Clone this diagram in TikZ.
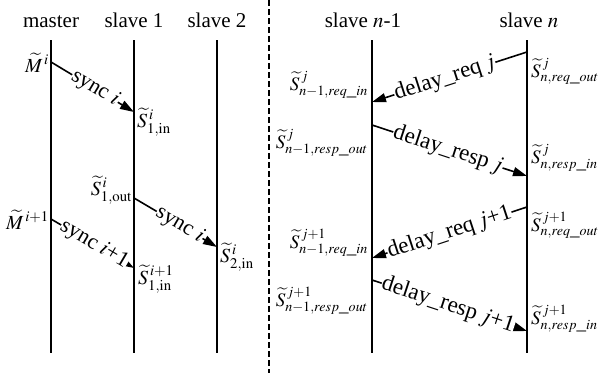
\documentclass[tikz,border=0pt]{standalone}
\usepackage{mathptmx}
\usepackage{fontspec}
\setmainfont{Liberation Serif}
\usetikzlibrary{arrows.meta}
\begin{document}
\begin{tikzpicture}[x=1pt,y=-1pt,
  life/.style={line width=1.6pt},
  msg/.style={line width=1.6pt,-{Triangle[length=14pt,width=9pt]}},
  lbl/.style={fill=white,inner sep=0.5pt,sloped,font=\fontsize{22}{24}\selectfont},
  dlbl/.style={lbl,font=\fontsize{23}{25}\selectfont},
  head/.style={font=\fontsize{21}{24}\selectfont,anchor=base,inner sep=0pt},
  ts/.style={font=\fontsize{20}{24}\selectfont,inner sep=0pt},
  tr/.style={font=\fontsize{19}{22}\selectfont,inner sep=0pt}]
\useasboundingbox (0,0) rectangle (598,373);
% headers
\node[head] (hm) at (51,27) {master};
\node[head] (hs1) at (134,27) {slave 1};
\node[head] (hs2) at (217,27) {slave 2};
\node[head] (hsn1) at (363,27) {slave $n$-1};
\node[head] (hsn) at (529,27) {slave $n$};
% lifelines
\coordinate (mt) at (51,40);  \coordinate (mb) at (51,353);
\coordinate (s1t) at (134,40); \coordinate (s1b) at (134,353);
\coordinate (s2t) at (217,40); \coordinate (s2b) at (217,353);
\coordinate (pt) at (372,40); \coordinate (pb) at (372,353);
\coordinate (nt) at (527,40); \coordinate (nb) at (527,353);
\draw[life] (mt) -- (mb);
\draw[life] (s1t) -- (s1b);
\draw[life] (s2t) -- (s2b);
\draw[life] (pt) -- (pb);
\draw[life] (nt) -- (nb);
% divider
\coordinate (dt) at (269,0); \coordinate (db) at (269,373);
\draw[line width=1.2pt,dash pattern=on 6pt off 3pt] (dt) -- (db);
% left messages
\coordinate (a1s) at (51,62);  \coordinate (a1e) at (134,112);
\coordinate (a2s) at (134,198); \coordinate (a2e) at (217,247);
\coordinate (a3s) at (51,219); \coordinate (a3e) at (134,268);
\draw[msg] (a1s) -- node[lbl,pos=0.53] {sync $i$} (a1e);
\draw[msg] (a2s) -- node[lbl,pos=0.55] {sync $i$} (a2e);
\draw[msg] (a3s) -- node[lbl,pos=0.52] {sync $i$+1} (a3e);
% right messages
\coordinate (b1s) at (527,52);  \coordinate (b1e) at (372,102);
\coordinate (b2s) at (372,125); \coordinate (b2e) at (527,176);
\coordinate (b3s) at (527,207); \coordinate (b3e) at (372,258);
\coordinate (b4s) at (372,280); \coordinate (b4e) at (527,331);
\draw[msg] (b1s) -- node[dlbl,pos=0.53] {delay\_req\,$j$} (b1e);
\draw[msg] (b2s) -- node[dlbl,pos=0.49] {delay\_resp\,$j$} (b2e);
\draw[msg] (b3s) -- node[dlbl,pos=0.5] {delay\_req\,$j$+1} (b3e);
\draw[msg] (b4s) -- node[dlbl,pos=0.49] {delay\_resp\,$j$+1} (b4e);
% timestamp labels left
\node[ts,anchor=base east] (tm1) at (49,72) {$\widetilde{M}^{\,i}$};
\node[ts,anchor=base west] (ts1in) at (137,127) {$\widetilde{S}^{\,i}_{\mathrm{1,in}}$};
\node[ts,anchor=base east] (ts1out) at (132,195) {$\widetilde{S}^{\,i}_{\mathrm{1,out}}$};
\node[ts,anchor=base east] (tm2) at (49,229) {$\widetilde{M}^{\,i+1}$};
\node[ts,anchor=base west] (ts2in) at (220,262) {$\widetilde{S}^{\,i}_{\mathrm{2,in}}$};
\node[ts,anchor=base west] (ts1in2) at (138,284) {$\widetilde{S}^{\,i+1}_{\mathrm{1,in}}$};
% timestamp labels right
\node[tr,anchor=base west] (r1) at (531,77) {$\widetilde{S}^{\,j}_{n,req\_out}$};
\node[tr,anchor=base east] (l1) at (368,90) {$\widetilde{S}^{\,j}_{n-1,req\_in}$};
\node[tr,anchor=base east] (l2) at (368,148) {$\widetilde{S}^{\,j}_{n-1,resp\_out}$};
\node[tr,anchor=base west] (r2) at (531,163) {$\widetilde{S}^{\,j}_{n,resp\_in}$};
\node[tr,anchor=base west] (r3) at (531,231) {$\widetilde{S}^{\,j+1}_{n,req\_out}$};
\node[tr,anchor=base east] (l3) at (368,248) {$\widetilde{S}^{\,j+1}_{n-1,req\_in}$};
\node[tr,anchor=base east] (l4) at (368,306) {$\widetilde{S}^{\,j+1}_{n-1,resp\_out}$};
\node[tr,anchor=base west] (r4) at (531,324) {$\widetilde{S}^{\,j+1}_{n,resp\_in}$};
\end{tikzpicture}
\end{document}
